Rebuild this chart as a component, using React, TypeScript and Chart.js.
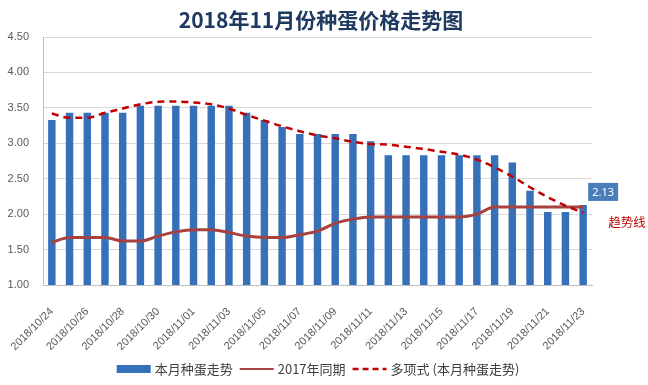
import React, { useEffect, useRef } from "react";
import { Chart, registerables } from "chart.js";

Chart.register(...registerables);

const TITLE = "2018年11月份种蛋价格走势图";
const SERIES_NAMES = ["本月种蛋走势", "2017年同期", "多项式 (本月种蛋走势)"];
const TREND_NOTE = "趋势线";

const dates = [
  "2018/10/24", "2018/10/25", "2018/10/26", "2018/10/27", "2018/10/28", "2018/10/29",
  "2018/10/30", "2018/10/31", "2018/11/01", "2018/11/02", "2018/11/03", "2018/11/04",
  "2018/11/05", "2018/11/06", "2018/11/07", "2018/11/08", "2018/11/09", "2018/11/10",
  "2018/11/11", "2018/11/12", "2018/11/13", "2018/11/14", "2018/11/15", "2018/11/16",
  "2018/11/17", "2018/11/18", "2018/11/19", "2018/11/20", "2018/11/21", "2018/11/22",
  "2018/11/23",
];

const thisMonth = [
  3.33, 3.43, 3.43, 3.43, 3.43, 3.53, 3.53, 3.53, 3.53, 3.53, 3.53, 3.43,
  3.33, 3.23, 3.13, 3.13, 3.13, 3.13, 3.03, 2.83, 2.83, 2.83, 2.83, 2.83,
  2.83, 2.83, 2.73, 2.33, 2.03, 2.03, 2.13,
];

const lastYear = [
  1.6, 1.67, 1.67, 1.67, 1.62, 1.62, 1.69, 1.75, 1.78, 1.78, 1.74, 1.69,
  1.67, 1.67, 1.71, 1.76, 1.87, 1.93, 1.96, 1.96, 1.96, 1.96, 1.96, 1.96,
  2.0, 2.1, 2.1, 2.1, 2.1, 2.1, 2.1,
];

const trend = [
  3.42, 3.36, 3.36, 3.43, 3.49, 3.55, 3.585, 3.59, 3.575, 3.55, 3.49, 3.4,
  3.32, 3.24, 3.17, 3.11, 3.07, 3.02, 2.99, 2.98, 2.95, 2.92, 2.88, 2.84,
  2.77, 2.66, 2.53, 2.38, 2.24, 2.12, 2.02,
];

const Y_MIN = 1;
const Y_MAX = 4.5;
const Y_STEP = 0.5;

const BAR_COLOR = "#3670b8";
const LAST_YEAR_COLOR = "#a8423f";
const TREND_COLOR = "#c00000";
const CJK = '"Noto Sans CJK SC", "Noto Sans", sans-serif';

const titlePlugin = {
  id: "customTitle",
  afterDraw(chart: any) {
    const ctx = chart.ctx;
    ctx.save();
    ctx.font = `bold 21px ${CJK}`;
    ctx.fillStyle = "#1f3a60";
    ctx.textAlign = "center";
    ctx.textBaseline = "middle";
    ctx.fillText(TITLE, 321, 20);
    ctx.restore();
  },
};

const legendPlugin = {
  id: "customLegend",
  afterDraw(chart: any) {
    const ctx = chart.ctx;
    ctx.save();
    ctx.font = `13px ${CJK}`;
    ctx.textBaseline = "middle";
    const boxW = 34;
    const gapText = 4;
    const gapItem = 7;
    const ds = chart.data.datasets;
    const widths = ds.map((d: any) => boxW + gapText + ctx.measureText(d.label).width);
    const total = widths.reduce((a: number, b: number) => a + b, 0) + gapItem * (ds.length - 1);
    const cx = 318;
    const cy = 369;
    let x = cx - total / 2;
    ds.forEach((d: any, i: number) => {
      if (d.type === "bar" || !d.type) {
        ctx.fillStyle = d.backgroundColor;
        ctx.fillRect(x, cy - 4, boxW, 8);
      } else {
        ctx.beginPath();
        ctx.strokeStyle = d.borderColor;
        ctx.lineWidth = d.borderDash ? 2.5 : 2;
        ctx.setLineDash(d.borderDash ? [6, 4] : []);
        ctx.moveTo(x, cy);
        ctx.lineTo(x + boxW, cy);
        ctx.stroke();
        ctx.setLineDash([]);
      }
      ctx.fillStyle = "#404040";
      ctx.textAlign = "left";
      ctx.fillText(d.label, x + boxW + gapText, cy);
      x += widths[i] + gapItem;
    });
    ctx.restore();
  },
};

const annotatePlugin = {
  id: "annotate",
  afterDatasetsDraw(chart: any) {
    const ctx = chart.ctx;
    ctx.save();
    const barMeta = chart.getDatasetMeta(0);
    const lastBar = barMeta.data[barMeta.data.length - 1];
    const values = chart.data.datasets[0].data;
    const txt = Number(values[values.length - 1]).toFixed(2);
    const bx = lastBar.x + 5;
    const by = lastBar.y - 22;
    ctx.fillStyle = "#4a7ebb";
    ctx.fillRect(bx, by, 30, 18);
    ctx.fillStyle = "#ffffff";
    ctx.font = '11px "Noto Sans", sans-serif';
    ctx.textAlign = "center";
    ctx.textBaseline = "middle";
    ctx.fillText(txt, bx + 15, by + 9.5);

    const trMeta = chart.getDatasetMeta(2);
    const lastPt = trMeta.data[trMeta.data.length - 1];
    ctx.fillStyle = TREND_COLOR;
    ctx.font = `12.5px ${CJK}`;
    ctx.textAlign = "left";
    ctx.fillText(TREND_NOTE, lastPt.x + 25, lastPt.y + 10);
    ctx.restore();
  },
};

export default function App() {
  const ref = useRef<HTMLCanvasElement | null>(null);

  useEffect(() => {
    if (!ref.current) return;
    const chart = new Chart(ref.current, {
      type: "bar",
      data: {
        labels: dates,
        datasets: [
          {
            type: "bar",
            label: SERIES_NAMES[0],
            data: thisMonth,
            backgroundColor: BAR_COLOR,
            categoryPercentage: 1,
            barPercentage: 0.42,
            order: 3,
          } as any,
          {
            type: "line",
            label: SERIES_NAMES[1],
            data: lastYear,
            borderColor: LAST_YEAR_COLOR,
            borderWidth: 3,
            pointRadius: 0,
            tension: 0.4,
            cubicInterpolationMode: "monotone",
            fill: false,
            order: 1,
          },
          {
            type: "line",
            label: SERIES_NAMES[2],
            data: trend,
            borderColor: TREND_COLOR,
            borderWidth: 2.5,
            borderDash: [7, 5],
            pointRadius: 0,
            tension: 0.4,
            cubicInterpolationMode: "monotone",
            fill: false,
            order: 0,
          },
        ],
      },
      options: {
        animation: false,
        responsive: true,
        maintainAspectRatio: false,
        layout: { padding: { top: 37, left: 0, right: 56, bottom: 30 }, autoPadding: false },
        plugins: {
          legend: { display: false },
          tooltip: { enabled: false },
          title: { display: false },
        },
        scales: {
          x: {
            grid: { display: false },
            border: { display: true, color: "#bfbfbf" },
            ticks: {
              autoSkip: false,
              maxRotation: 45,
              minRotation: 45,
              padding: 12,
              color: "#595959",
              font: { family: '"Liberation Sans", Arial, sans-serif', size: 11 },
              callback: (_v: any, i: number) => (i % 2 === 0 ? dates[i] : ""),
            },
            afterFit: (s: any) => {
              s.height = 70;
            },
          },
          y: {
            min: Y_MIN,
            max: Y_MAX,
            grid: { color: "#d9d9d9", drawTicks: false },
            border: { display: true, color: "#bfbfbf" },
            ticks: {
              stepSize: Y_STEP,
              padding: 14,
              color: "#595959",
              font: { family: '"Liberation Sans", Arial, sans-serif', size: 11 },
              callback: (v: any) => Number(v).toFixed(2),
            },
            afterFit: (s: any) => {
              s.width = 43;
            },
          },
        },
      },
      plugins: [titlePlugin, legendPlugin, annotatePlugin],
    } as any);
    return () => chart.destroy();
  }, []);

  return (
    <div style={{ position: "fixed", left: 0, top: 0, width: 648, height: 385, background: "#fff" }}>
      <canvas ref={ref} width={648} height={385} />
    </div>
  );
}
